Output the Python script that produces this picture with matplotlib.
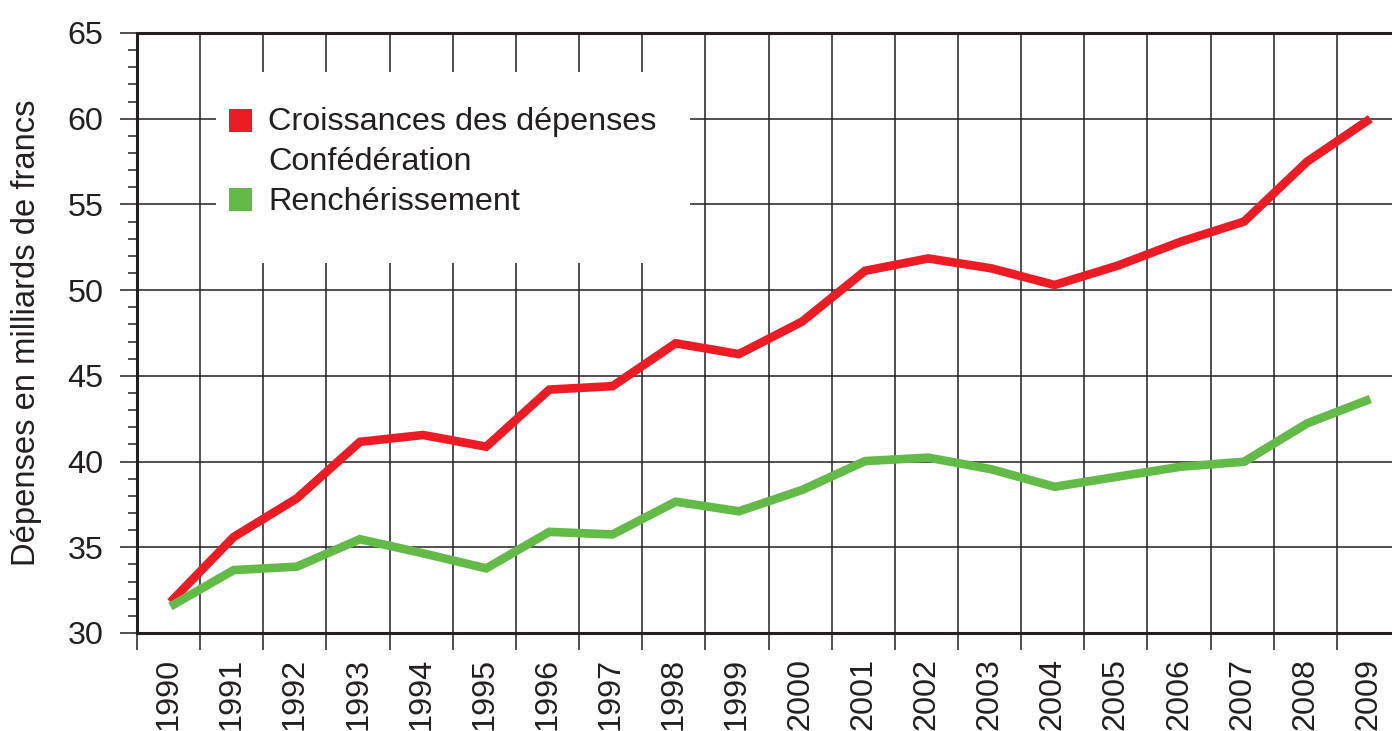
import matplotlib
matplotlib.use("Agg")
import matplotlib.pyplot as plt
from matplotlib.patches import Rectangle
from matplotlib.ticker import MultipleLocator, FixedLocator

years = [str(y) for y in range(1990, 2010)]
depenses = [31.8, 35.6, 37.85, 41.15, 41.55, 40.87, 44.2, 44.4, 46.9, 46.27,
            48.16, 51.13, 51.85, 51.27, 50.3, 51.43, 52.83, 54.0, 57.5, 60.0]
rencherissement = [31.55, 33.67, 33.87, 35.47, 34.65, 33.77, 35.9, 35.75, 37.66, 37.1,
                   38.34, 40.03, 40.23, 39.55, 38.53, 39.12, 39.7, 39.99, 42.23, 43.65]
label_red = "Croissances des dépenses\nConfédération"
label_green = "Renchérissement"
ylabel = "Dépenses en milliards de francs"

RED = "#ED1C24"
GREEN = "#62BB46"
INK = "#231F20"
FONT = "Liberation Sans"
FS = 23.3

plt.rcParams['font.family'] = [FONT, 'DejaVu Sans']

fig = plt.figure(figsize=(13.92, 7.31), dpi=100)
ax = fig.add_axes([137/1392, (731-633)/731, 1 - 137/1392, 600/731])

x = list(range(len(years)))
ax.plot([v + 0.03 for v in x], depenses, color=RED, lw=6.2, solid_capstyle='butt',
        solid_joinstyle='miter', zorder=3)
ax.plot([v + 0.03 for v in x], rencherissement, color=GREEN, lw=6.2, solid_capstyle='butt',
        solid_joinstyle='miter', zorder=4)

ax.set_xlim(-0.5, -0.5 + 1255/63.15)
ax.set_ylim(30, 65)

# x axis
ax.xaxis.set_major_locator(FixedLocator(x))
ax.set_xticklabels(years, rotation=90, fontsize=FS, color=INK)
ax.xaxis.set_minor_locator(FixedLocator([i - 0.5 for i in range(len(years))]))
ax.tick_params(axis='x', which='major', length=0, pad=18)
ax.tick_params(axis='x', which='minor', length=12.2, width=1.1, color=INK, direction='out')
for lbl in ax.get_xticklabels():
    lbl.set_verticalalignment('top')

# y axis
ax.yaxis.set_major_locator(MultipleLocator(5))
ax.yaxis.set_minor_locator(MultipleLocator(1))
ax.tick_params(axis='y', which='major', length=12.2, width=1.1, color=INK,
               labelsize=FS, labelcolor=INK, pad=12)
ax.tick_params(axis='y', which='minor', length=6.5, width=1.1, color=INK)

ax.grid(True, axis='y', which='major', color=INK, lw=1.1)
ax.grid(True, axis='x', which='minor', color=INK, lw=1.1)
ax.set_axisbelow(True)

for side in ['left', 'bottom', 'top']:
    ax.spines[side].set_color(INK)
    ax.spines[side].set_linewidth(2.2)
ax.spines['right'].set_visible(False)

ax.set_ylabel(ylabel, fontsize=FS + 0.3, color=INK)
ax.yaxis.set_label_coords(-95/1255, 0.5)

# legend box (white, no border)
ax.add_patch(Rectangle((79/1255, (633-263)/600), 474/1255, 191/600,
                       transform=ax.transAxes, facecolor='white', edgecolor='none',
                       zorder=1.5, clip_on=False))
ax.add_patch(Rectangle((92/1255, (633-132)/600), 23/1255, 23/600,
                       transform=ax.transAxes, facecolor=RED, edgecolor='none', zorder=2))
ax.add_patch(Rectangle((92/1255, (633-211)/600), 23/1255, 23/600,
                       transform=ax.transAxes, facecolor=GREEN, edgecolor='none', zorder=2))
ax.text(131/1255, (633-130)/600, label_red.split("\n")[0], transform=ax.transAxes,
        fontsize=FS, color=INK, va='baseline', ha='left', zorder=2)
ax.text(131/1255, (633-170)/600, label_red.split("\n")[1], transform=ax.transAxes,
        fontsize=FS, color=INK, va='baseline', ha='left', zorder=2)
ax.text(131/1255, (633-210)/600, label_green, transform=ax.transAxes,
        fontsize=FS, color=INK, va='baseline', ha='left', zorder=2)

fig.savefig("out.png", dpi=100)
